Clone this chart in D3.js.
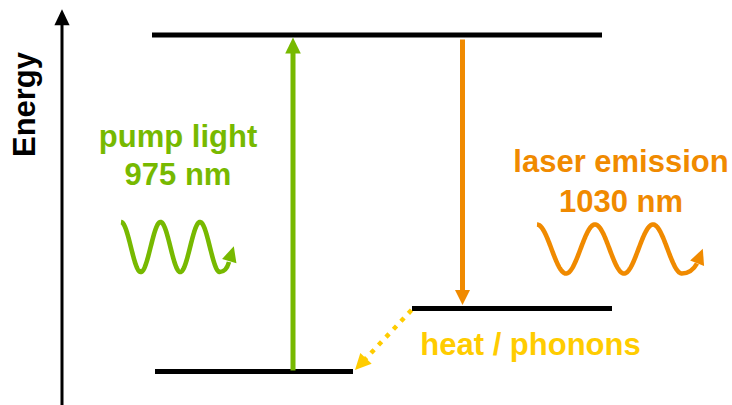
<!DOCTYPE html>
<html>
<head>
<meta charset="utf-8">
<script src="https://cdn.jsdelivr.net/npm/d3@7"></script>
<style>
  html, body { margin: 0; padding: 0; background: #fff; }
  svg { display: block; }
  text { font-family: Arial, "Liberation Sans", sans-serif; font-weight: bold; }
</style>
</head>
<body>
<svg id="chart" width="732" height="405"></svg>
<script>
// ---- data ----
const axisLabel = "Energy";
const levelNames = ["ground", "lower", "upper"];
const levelEnergy = [0, 18.7, 100];        // relative energy
const levelStart = [93, 350, 90];           // diagram units along x
const levelEnd = [291, 550, 540];

const transitionNames = ["pump", "emission", "relaxation"];
const transitionFrom = ["ground", "upper", "lower"];
const transitionTo = ["upper", "lower", "ground"];
const transitionPos = [231, 400.5, null];   // x in diagram units (null = diagonal)

const pumpLines = ["pump light", "975 nm"];
const emissionLines = ["laser emission", "1030 nm"];
const heatLines = ["heat / phonons"];

const waveNames = ["pump", "emission"];
const wavePeriod = [39.5, 58];   // relative wavelength (diagram units)
const waveAmplitude = [25, 24.5];

const colors = { pump: "#77b900", emission: "#f08a00", relaxation: "#ffcc00", level: "#000" };

// ---- scales ----
const W = 732, H = 405;
const svg = d3.select("#chart");
const x = d3.scaleLinear().domain([0, 670]).range([62, 732]);
const y = d3.scaleLinear().domain([0, 100]).range([371.5, 35]);
const levelIdx = n => levelNames.indexOf(n);

function arrowHead(g, tip, dir, len, halfW, color) {
  const m = Math.hypot(dir[0], dir[1]);
  const ux = dir[0] / m, uy = dir[1] / m;
  const bx = tip[0] - ux * len, by = tip[1] - uy * len;
  const px = -uy, py = ux;
  g.append("path")
    .attr("d", `M${tip[0]},${tip[1]}L${bx + px * halfW},${by + py * halfW}L${bx - px * halfW},${by - py * halfW}Z`)
    .attr("fill", color);
}

// ---- energy axis ----
const axisX = 62;
svg.append("line").attr("x1", axisX).attr("x2", axisX)
  .attr("y1", H).attr("y2", 24).attr("stroke", "#000").attr("stroke-width", 3);
arrowHead(svg, [axisX, 9.3], [0, -1], 16, 7.6, "#000");
svg.append("text")
  .attr("transform", `translate(35,104.5) rotate(-90)`)
  .attr("text-anchor", "middle")
  .attr("font-size", 31)
  .attr("fill", "#000")
  .text(axisLabel);

// ---- levels ----
svg.selectAll("line.level").data(levelNames).join("line")
  .attr("class", "level")
  .attr("x1", (d, i) => x(levelStart[i]))
  .attr("x2", (d, i) => x(levelEnd[i]))
  .attr("y1", (d, i) => y(levelEnergy[i]))
  .attr("y2", (d, i) => y(levelEnergy[i]))
  .attr("stroke", colors.level)
  .attr("stroke-width", 5);

// ---- pump transition (up) ----
{
  const i0 = levelIdx(transitionFrom[0]), i1 = levelIdx(transitionTo[0]);
  const xp = x(transitionPos[0]);
  const yTip = y(levelEnergy[i1]) + 2.5;
  svg.append("line").attr("x1", xp).attr("x2", xp)
    .attr("y1", y(levelEnergy[i0]) - 1).attr("y2", yTip + 15)
    .attr("stroke", colors.pump).attr("stroke-width", 5);
  arrowHead(svg, [xp, yTip], [0, -1], 16, 7.8, colors.pump);
}
// ---- emission transition (down) ----
{
  const i0 = levelIdx(transitionFrom[1]), i1 = levelIdx(transitionTo[1]);
  const xp = x(transitionPos[1]);
  const yTip = y(levelEnergy[i1]) - 3.5;
  svg.append("line").attr("x1", xp).attr("x2", xp)
    .attr("y1", y(levelEnergy[i0]) + 4.5).attr("y2", yTip - 14)
    .attr("stroke", colors.emission).attr("stroke-width", 5);
  arrowHead(svg, [xp, yTip], [0, 1], 15, 7.5, colors.emission);
}
// ---- relaxation (dotted diagonal) ----
{
  const iL = levelIdx(transitionFrom[2]), iG = levelIdx(transitionTo[2]);
  const start = [x(levelStart[iL]) - 0.5, y(levelEnergy[iL]) + 1.5];
  const tip = [x(levelEnd[iG]) + 2, y(levelEnergy[iG]) - 1.5];
  const dir = [tip[0] - start[0], tip[1] - start[1]];
  const m = Math.hypot(dir[0], dir[1]);
  const len = 16;
  const end = [tip[0] - dir[0] / m * (len - 2), tip[1] - dir[1] / m * (len - 2)];
  svg.append("line")
    .attr("x1", start[0]).attr("y1", start[1])
    .attr("x2", end[0]).attr("y2", end[1])
    .attr("stroke", colors.relaxation).attr("stroke-width", 4.5)
    .attr("stroke-dasharray", "4.5,6.4");
  arrowHead(svg, tip, dir, len, 7.8, colors.relaxation);
}

// ---- waves ----
function drawWave(name, x0, cy, P, A, tail, tip, color) {
  const pts = d3.range(0, 5 * Math.PI + 0.001, 0.05).map(t => [x0 + t / (2 * Math.PI) * P, cy - A * Math.cos(t)]);
  const line = d3.line();
  const tr = pts[pts.length - 1];
  let d = line(pts);
  d += `Q${tr[0] + tail[2]},${tr[1]} ${tail[0]},${tail[1]}`;
  svg.append("path").attr("d", d).attr("fill", "none")
    .attr("stroke", color).attr("stroke-width", 4.6).attr("stroke-linecap", "butt");
  arrowHead(svg, tip, [tip[0] - tail[0], tip[1] - tail[1]], 15.5, 7.5, color);
}
drawWave("pump", 121, 247, wavePeriod[0], waveAmplitude[0], [229, 262, 6.5], [233.8, 246.3], colors.pump);
drawWave("emission", 537, 249, wavePeriod[1], waveAmplitude[1], [697, 263.5, 9.5], [702.8, 248.8], colors.emission);

// ---- labels ----
function lines(arr, cx, y0, dy, color) {
  svg.append("g").selectAll("text").data(arr).join("text")
    .attr("x", cx).attr("y", (d, i) => y0 + i * dy)
    .attr("text-anchor", "middle")
    .attr("font-size", 31)
    .attr("fill", color)
    .text(d => d);
}
lines(pumpLines, 178, 147, 38, colors.pump);
lines(emissionLines, 621, 172, 40, colors.emission);
lines(heatLines, 530.5, 355, 0, colors.relaxation);
</script>
</body>
</html>
